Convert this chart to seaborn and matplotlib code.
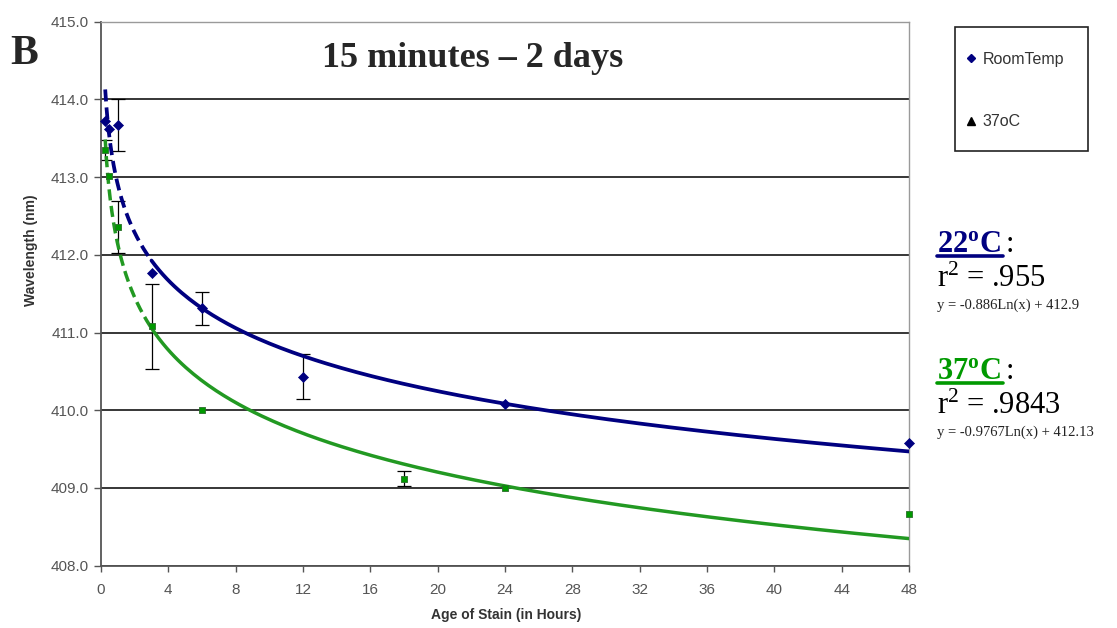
import numpy as np
import pandas as pd
import matplotlib
matplotlib.use("Agg")
import matplotlib.pyplot as plt
from matplotlib.lines import Line2D
from matplotlib.patches import Rectangle
import seaborn as sns

# --- data -----------------------------------------------------------------
room_hours = [0.25, 0.5, 1, 3, 6, 12, 24, 48]
room_nm = [413.72, 413.62, 413.67, 411.77, 411.31, 410.43, 410.08, 409.58]
room_err = [0, 0, 0.33, 0, 0.21, 0.29, 0, 0]

warm_hours = [0.25, 0.5, 1, 3, 6, 18, 24, 48]
warm_nm = [413.35, 413.02, 412.36, 411.08, 410.00, 409.12, 409.00, 408.67]
warm_err = [0.13, 0, 0.33, 0.55, 0, 0.10, 0, 0]

# logarithmic trend lines: y = a*ln(x) + b
room_fit = (-0.886, 412.9)
warm_fit = (-0.9767, 412.13)
room_r2 = ".955"
warm_r2 = ".9843"

x_ticks = list(range(0, 49, 4))
y_ticks = [408, 409, 410, 411, 412, 413, 414, 415]

BLUE = "#000080"
GREEN = "#229922"
TEXT_GREEN = "#009900"

sns.set_theme(style="white")
plt.rcParams["font.family"] = ["Liberation Sans", "DejaVu Sans"]
plt.rcParams["mathtext.fontset"] = "custom"
plt.rcParams["mathtext.rm"] = "Liberation Serif"
plt.rcParams["mathtext.bf"] = "Liberation Serif:bold"
plt.rcParams["mathtext.it"] = "Liberation Serif:italic"

W, H = 1117, 628
fig = plt.figure(figsize=(W / 100, H / 100), dpi=100)
fig.patch.set_facecolor("white")
ax = fig.add_axes([101 / W, 1 - 565.7 / H, 808 / W, 544 / H])
ax.set_facecolor("white")

# trend curves: dashed near the origin, solid afterwards
def trend(fit, lo, hi):
    xs = np.linspace(lo, hi, 200)
    return pd.DataFrame({"x": xs, "y": fit[0] * np.log(xs) + fit[1]})

for fit, col, lw in [(room_fit, BLUE, 2.7), (warm_fit, GREEN, 2.5)]:
    d1 = trend(fit, 0.25, 3.0)
    d2 = trend(fit, 3.0, 48)
    sns.lineplot(data=d1, x="x", y="y", ax=ax, color=col, lw=lw,
                 linestyle=(0, (3.2, 1.6)), sort=False, zorder=3)
    sns.lineplot(data=d2, x="x", y="y", ax=ax, color=col, lw=lw,
                 sort=False, zorder=3)

# error bars
for xs, ys, es in [(room_hours, room_nm, room_err), (warm_hours, warm_nm, warm_err)]:
    xs, ys, es = np.array(xs), np.array(ys), np.array(es)
    m = es > 0
    ax.errorbar(xs[m], ys[m], yerr=es[m], fmt="none", ecolor="black",
                elinewidth=0.9, capsize=5, capthick=0.9, zorder=2)

# data points
room_df = pd.DataFrame({"hours": room_hours, "nm": room_nm})
warm_df = pd.DataFrame({"hours": warm_hours, "nm": warm_nm})
sns.scatterplot(data=room_df, x="hours", y="nm", ax=ax, marker="D", s=26,
                color=BLUE, edgecolor=BLUE, linewidth=0.5, zorder=4, clip_on=False)
sns.scatterplot(data=warm_df, x="hours", y="nm", ax=ax, marker="s", s=22,
                color=TEXT_GREEN, edgecolor="#2a6e2a", linewidth=0.6, zorder=4,
                clip_on=False)

# axes styling
ax.set_xlim(0, 48)
ax.set_ylim(408, 415)
ax.set_xticks(x_ticks)
ax.set_yticks(y_ticks)
ax.set_yticklabels([f"{v:.1f}" for v in y_ticks])
ax.yaxis.grid(True, color="black", lw=1.1)
ax.xaxis.grid(False)
ax.set_axisbelow(True)
for side in ["left", "bottom"]:
    ax.spines[side].set_color("#555555")
    ax.spines[side].set_linewidth(1.3)
for side in ["top", "right"]:
    ax.spines[side].set_color("#9a9a9a")
    ax.spines[side].set_linewidth(1.0)
ax.tick_params(axis="y", direction="out", length=5, width=1, color="#555555",
               labelsize=11, labelcolor="#555555", pad=4, left=True)
ax.tick_params(axis="x", direction="out", length=4.5, width=1, color="#555555",
               labelsize=11, labelcolor="#555555", pad=8, bottom=True)

ax.set_xlabel("Age of Stain (in Hours)", fontsize=10, fontweight="bold", color="#333333")
ax.set_ylabel("Wavelength (nm)", fontsize=10, fontweight="bold", color="#333333")
ax.xaxis.set_label_coords(0.501, -0.077)
ax.yaxis.set_label_coords(-0.078, 0.58)

# headings
fig.text(322 / W, 1 - 67 / H, "15 minutes \u2013 2 days", fontsize=26,
         fontweight="bold", family="Liberation Serif", va="baseline")
fig.text(10 / W, 1 - 64 / H, "B", fontsize=30, fontweight="bold",
         family="Liberation Serif", va="baseline")

# legend box
fig.patches.append(Rectangle((955 / W, 1 - 151 / H), 133 / W, 124 / H,
                             transform=fig.transFigure, fill=False,
                             edgecolor="#222222", lw=1.2))
handles = [Line2D([], [], ls="none", marker="D", ms=4.5, color=BLUE),
           Line2D([], [], ls="none", marker="^", ms=5.5, color="black")]
leg = ax.legend(handles, ["RoomTemp", "37oC"], loc="upper left",
                bbox_to_anchor=(966 / W, 1 - 52 / H), bbox_transform=fig.transFigure,
                frameon=False, fontsize=11.5, labelspacing=2.95, handlelength=0.6,
                handletextpad=0.45, borderpad=0, borderaxespad=0)
for t in leg.get_texts():
    t.set_color("#333333")

# fit annotations on the right
def fx(px):
    return px / W

def fy(py):
    return 1 - py / H

for label, col, r2, fit, base in [("22", BLUE, room_r2, room_fit, 251.7),
                                  ("37", TEXT_GREEN, warm_r2, warm_fit, 379)]:
    fig.text(fx(937), fy(base), r"$\mathbf{" + label + r"^{o}C}$", fontsize=22,
             color=col, va="baseline")
    fig.text(fx(1006), fy(base), ":", fontsize=22, family="Liberation Serif",
             color="black", va="baseline")
    fig.lines.append(Line2D([fx(937), fx(1003)], [fy(base + 4), fy(base + 4)],
                            transform=fig.transFigure, color=col, lw=2.6))
    fig.text(fx(937), fy(base + 35), r"r$^{2}$ = " + r2, fontsize=22,
             family="Liberation Serif", color="black", va="baseline")
    sign = "+" if fit[1] >= 0 else "-"
    fig.text(fx(937), fy(base + 57),
             f"y = {fit[0]:g}Ln(x) {sign} {abs(fit[1]):g}", fontsize=10.5,
             family="Liberation Serif", color="#222222", va="baseline")

fig.savefig("out.png", dpi=100, facecolor="white")
